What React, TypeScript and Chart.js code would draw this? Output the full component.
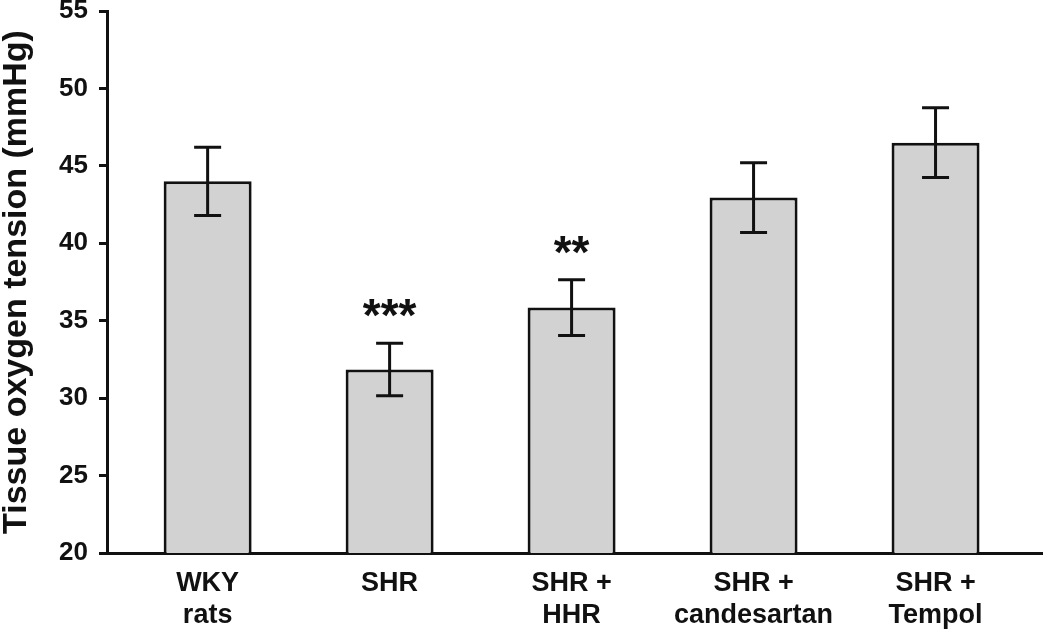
import React, { useEffect, useRef } from "react";
import { Chart, registerables } from "chart.js";

Chart.register(...registerables);

const groupLabels: string[][] = [
  ["WKY", "rats"],
  ["SHR"],
  ["SHR +", "HHR"],
  ["SHR +", "candesartan"],
  ["SHR +", "Tempol"],
];
const meanValues: number[] = [44.0, 31.85, 35.85, 42.95, 46.5];
const errorValues: number[] = [2.2, 1.7, 1.8, 2.25, 2.25];
const significance: string[] = ["", "***", "**", "", ""];
const yTicks: number[] = [20, 25, 30, 35, 40, 45, 50, 55];

const FONT = '"Liberation Sans", Arial, Helvetica, sans-serif';

const errorBarPlugin = {
  id: "errorBars",
  afterDatasetsDraw(chart: any) {
    const { ctx, scales } = chart;
    const xs = scales.x;
    const ys = scales.y;
    ctx.save();
    ctx.strokeStyle = "#111";
    ctx.fillStyle = "#111";
    ctx.lineWidth = 3;
    ctx.lineCap = "butt";
    meanValues.forEach((m, i) => {
      const x = xs.getPixelForValue(i);
      const yt = ys.getPixelForValue(m + errorValues[i]);
      const yb = ys.getPixelForValue(m - errorValues[i]);
      const half = 13.5;
      ctx.beginPath();
      ctx.moveTo(x, yt);
      ctx.lineTo(x, yb);
      ctx.moveTo(x - half, yt);
      ctx.lineTo(x + half, yt);
      ctx.moveTo(x - half, yb);
      ctx.lineTo(x + half, yb);
      ctx.stroke();
      if (significance[i]) {
        ctx.font = `bold 46px ${FONT}`;
        ctx.textAlign = "center";
        ctx.textBaseline = "alphabetic";
        ctx.fillText(significance[i], x, yt - 12);
      }
    });
    ctx.restore();
  },
};

export default function App() {
  const canvasRef = useRef<HTMLCanvasElement | null>(null);

  useEffect(() => {
    document.body.style.margin = "0";
    const canvas = canvasRef.current;
    if (!canvas) return;
    const chart = new Chart(canvas, {
      type: "bar",
      data: {
        datasets: [
          {
            data: meanValues.map((v, i) => ({ x: i, y: v })),
            backgroundColor: "#d2d2d2",
            borderColor: "#111",
            borderWidth: 3,
            borderSkipped: false,
            categoryPercentage: 1,
            barPercentage: 0.4835,
          },
        ],
      },
      options: {
        responsive: false,
        animation: false,
        devicePixelRatio: 1,
        layout: { padding: { left: 0, right: 8, top: 11, bottom: 0 } },
        plugins: {
          legend: { display: false },
          tooltip: { enabled: false },
        },
        scales: {
          x: {
            type: "linear",
            offset: false,
            min: -0.553,
            max: 4.585,
            grid: { display: false, drawTicks: false },
            border: { display: true, color: "#111", width: 3 },
            ticks: {
              stepSize: 1,
              includeBounds: false,
              autoSkip: false,
              maxRotation: 0,
              minRotation: 0,
              color: "#111",
              padding: 14,
              font: { family: FONT, size: 27, weight: "bold", lineHeight: 1.2 },
              callback: (value: any) =>
                Number.isInteger(value) && groupLabels[value] ? groupLabels[value] : "",
            },
            afterFit: (scale: any) => {
              scale.height = 76;
              scale.paddingLeft = 0;
              scale.paddingRight = 0;
            },
          },
          y: {
            min: yTicks[0],
            max: yTicks[yTicks.length - 1],
            afterBuildTicks: (scale: any) => {
              scale.ticks = yTicks.map((v) => ({ value: v }));
            },
            grid: {
              drawOnChartArea: false,
              drawTicks: true,
              tickLength: 8,
              tickWidth: 3,
              tickColor: "#111",
              lineWidth: 3,
              color: "#111",
            },
            border: { display: true, color: "#111", width: 3 },
            ticks: {
              color: "#111",
              padding: 11,
              font: { family: FONT, size: 26, weight: "bold" },
            },
            title: {
              display: true,
              text: "Tissue oxygen tension (mmHg)",
              color: "#111",
              padding: 0,
              font: { family: FONT, size: 34, weight: "bold", lineHeight: 1 },
            },
            afterFit: (scale: any) => {
              scale.width = 107;
              scale.paddingTop = 0;
              scale.paddingBottom = 0;
            },
          },
        },
      },
      plugins: [errorBarPlugin],
    });
    return () => chart.destroy();
  }, []);

  return (
    <div style={{ width: 1050, height: 629 }}>
      <canvas ref={canvasRef} width={1050} height={629} />
    </div>
  );
}
